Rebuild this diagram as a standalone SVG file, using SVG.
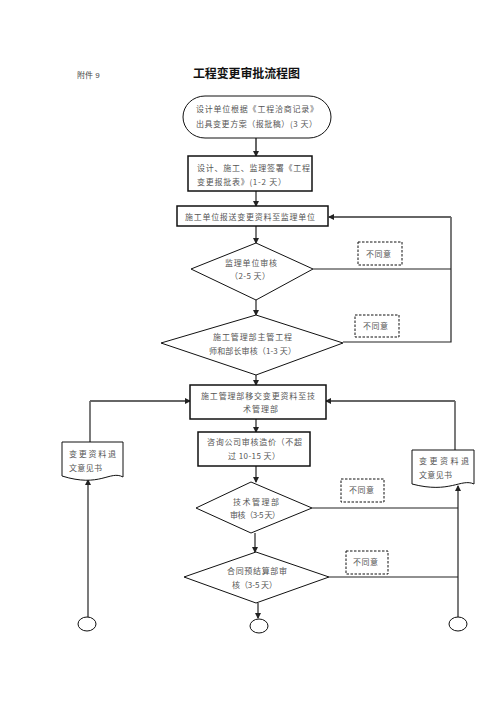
<svg xmlns="http://www.w3.org/2000/svg" width="496" height="702" viewBox="0 0 496 702">
<defs>
<marker id="ah" markerWidth="6" markerHeight="6" refX="5" refY="3" orient="auto" markerUnits="userSpaceOnUse">
<path d="M0,0 L6,3 L0,6 Z" fill="#222"/>
</marker>
<style>
.t{font-family:"Noto Sans CJK SC","Noto Sans",sans-serif;font-size:8px;fill:#555}
.s{fill:#fff;stroke:#111;stroke-width:1}
.b{fill:#fff;stroke:#111;stroke-width:1.5}
.d{fill:#fff;stroke:#111;stroke-width:1;stroke-dasharray:2.5,1.5}
.c{fill:none;stroke:#222;stroke-width:1.2}
.g{fill:none;stroke:#666;stroke-width:2}
</style>
</defs>
<rect width="496" height="702" fill="#fff"/>
<text x="77" y="78" style="font-family:'Liberation Sans','Noto Sans CJK SC',sans-serif;font-size:8px;fill:#444">附件 9</text>
<text x="193" y="78" textLength="107" lengthAdjust="spacing" style="font-family:'Noto Sans CJK SC',sans-serif;font-size:12px;font-weight:bold;fill:#111">工程变更审批流程图</text>

<g id="connectors">
<line class="g" x1="256" y1="138" x2="256" y2="156" marker-end="url(#ah)"/>
<line class="c" x1="256" y1="191" x2="256" y2="206" marker-end="url(#ah)"/>
<line class="c" x1="256" y1="226" x2="256" y2="243" marker-end="url(#ah)"/>
<line class="c" x1="256" y1="300" x2="256" y2="315" marker-end="url(#ah)"/>
<line class="c" x1="256" y1="375" x2="256" y2="385" marker-end="url(#ah)"/>
<line class="c" x1="256" y1="419" x2="256" y2="432" marker-end="url(#ah)"/>
<line class="c" x1="256" y1="466" x2="256" y2="482" marker-end="url(#ah)"/>
<line class="c" x1="255" y1="533" x2="255" y2="552" marker-end="url(#ah)"/>
<line class="c" x1="258" y1="603" x2="258" y2="618" marker-end="url(#ah)"/>
<polyline class="c" points="313,269 451,269"/>
<polyline class="c" points="343,342 451,342 451,217"/>
<line class="g" x1="451" y1="217" x2="329" y2="217" marker-end="url(#ah)"/>
<polyline class="c" points="90,442 90,401"/>
<line class="g" x1="90" y1="401" x2="190" y2="401" marker-end="url(#ah)"/>
<polyline class="c" points="455,450 455,401"/>
<line class="g" x1="455" y1="401" x2="326" y2="401" marker-end="url(#ah)"/>
<line class="c" x1="88" y1="617" x2="88" y2="480" marker-end="url(#ah)"/>
<line class="c" x1="458" y1="617" x2="458" y2="486" marker-end="url(#ah)"/>
<polyline class="c" points="312,508 458,508"/>
<polyline class="c" points="329,577 458,577"/>
</g>

<g id="n1"><rect class="s" x="183" y="96" width="148" height="42" rx="22" ry="21"/>
<text class="t" x="196" y="112" textLength="122" lengthAdjust="spacing">设计单位根据《工程洽商记录》</text>
<text class="t" x="196" y="127" textLength="121" lengthAdjust="spacing">出具变更方案（报批稿）(3 天）</text></g>

<g id="n2"><rect class="b" x="188" y="156" width="124" height="35"/>
<text class="t" x="197" y="171" textLength="113" lengthAdjust="spacing">设计、施工、监理签署《工程</text>
<text class="t" x="197" y="185" textLength="89" lengthAdjust="spacing">变更报批表》(1-2 天）</text></g>

<g id="n3"><rect class="b" x="177" y="206" width="151" height="20"/>
<text class="t" x="185" y="220" textLength="130" lengthAdjust="spacing">施工单位报送变更资料至监理单位</text></g>

<g id="n4"><polygon class="s" points="256,243 313,269 256,300 191,269"/>
<text class="t" x="225" y="266" textLength="52" lengthAdjust="spacing">监理单位审核</text>
<text class="t" x="230" y="279" textLength="40" lengthAdjust="spacing">（2-5 天）</text></g>

<g id="n5"><polygon class="s" points="256,315 343,343 256,375 161,343"/>
<text class="t" x="213" y="340" textLength="79" lengthAdjust="spacing">施工管理部主管工程</text>
<text class="t" x="209" y="354" textLength="87" lengthAdjust="spacing">师和部长审核（1-3 天）</text></g>

<g id="n6"><rect class="b" x="190" y="385" width="136" height="34"/>
<text class="t" x="201" y="399" textLength="114" lengthAdjust="spacing">施工管理部移交变更资料至技</text>
<text class="t" x="243" y="412" textLength="35" lengthAdjust="spacing">术管理部</text></g>

<g id="n7"><rect class="b" x="198" y="432" width="112" height="34"/>
<text class="t" x="207" y="445" textLength="95" lengthAdjust="spacing">咨询公司审核造价（不超</text>
<text class="t" x="228" y="459" textLength="52" lengthAdjust="spacing">过 10-15 天）</text></g>

<g id="n8"><polygon class="s" points="251,482 312,508 251,533 196,508"/>
<text class="t" x="233" y="505" textLength="46" lengthAdjust="spacing">技术管理部</text>
<text class="t" x="230" y="518" textLength="50" lengthAdjust="spacing">审核（3-5 天）</text></g>

<g id="n9"><polygon class="s" points="256,552 329,577 256,603 184,577"/>
<text class="t" x="227" y="574" textLength="60" lengthAdjust="spacing">合同预结算部审</text>
<text class="t" x="232" y="588" textLength="45" lengthAdjust="spacing">核（3-5 天）</text></g>

<g id="d1"><rect class="d" x="358" y="242" width="44" height="23"/><text class="t" x="366" y="257" textLength="25" lengthAdjust="spacing">不同意</text></g>
<g id="d2"><rect class="d" x="355" y="315" width="44" height="22"/><text class="t" x="363" y="329" textLength="25" lengthAdjust="spacing">不同意</text></g>
<g id="d3"><rect class="d" x="341" y="479" width="43" height="23"/><text class="t" x="349" y="493" textLength="25" lengthAdjust="spacing">不同意</text></g>
<g id="d4"><rect class="d" x="346" y="551" width="42" height="23"/><text class="t" x="353" y="565" textLength="25" lengthAdjust="spacing">不同意</text></g>

<g id="doc1"><path class="s" d="M62,442 H123 V477 C110,470 100,488 62,476 Z"/>
<text class="t" x="69" y="457" textLength="47" lengthAdjust="spacing">变更资料退</text>
<text class="t" x="69" y="471" textLength="33" lengthAdjust="spacing">文意见书</text></g>

<g id="doc2"><path class="s" d="M412,450 H474 V484 C461,478 450,494 412,484 Z"/>
<text class="t" x="419" y="464" textLength="50" lengthAdjust="spacing">变更资料退</text>
<text class="t" x="419" y="478" textLength="33" lengthAdjust="spacing">文意见书</text></g>

<g id="e1"><ellipse class="s" cx="87" cy="624" rx="9" ry="7"/></g>
<g id="e2"><ellipse class="s" cx="259" cy="626" rx="9" ry="7"/></g>
<g id="e3"><ellipse class="s" cx="458" cy="624" rx="9" ry="7"/></g>
</svg>
